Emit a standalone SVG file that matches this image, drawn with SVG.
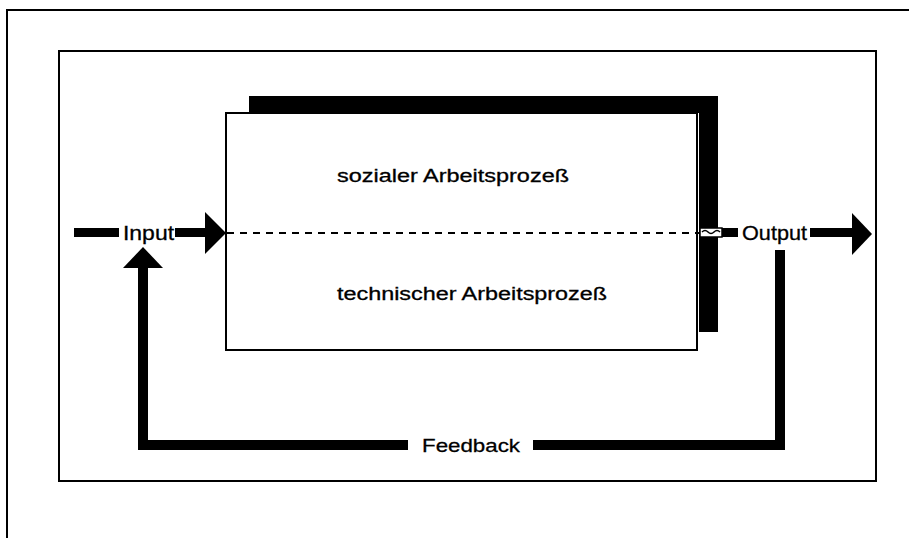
<svg xmlns="http://www.w3.org/2000/svg" width="909" height="538" viewBox="0 0 909 538">
<style>
.frame{fill:none;stroke:#000;stroke-width:2}
.bar{fill:#000}
.lbl{font-family:"Liberation Sans",Arial,sans-serif;fill:#000;stroke:#000;stroke-width:0.3}
</style>
<rect width="909" height="538" fill="#fff"/>
<g id="outer-frame">
<path class="frame" d="M7,538 V10 H909"/>
</g>
<g id="inner-frame">
<rect class="frame" x="59" y="51" width="817" height="430"/>
</g>
<g id="process">
<path class="bar" d="M249,96 H718 V332 H699 V113 H249 Z"/>
<rect x="226" y="113" width="471" height="237" fill="#fff" stroke="#000" stroke-width="2"/>
<line x1="227" y1="233" x2="699" y2="233" stroke="#000" stroke-width="2" stroke-dasharray="7 6"/>
<text class="lbl" x="337" y="182" font-size="18" textLength="232" lengthAdjust="spacingAndGlyphs">sozialer Arbeitsprozeß</text>
<text class="lbl" x="337" y="300" font-size="18" textLength="270" lengthAdjust="spacingAndGlyphs">technischer Arbeitsprozeß</text>
</g>
<g id="input">
<text class="lbl" x="123" y="240" font-size="20" textLength="51" lengthAdjust="spacingAndGlyphs">Input</text>
</g>
<g id="output">
<text class="lbl" x="742" y="240" font-size="20" textLength="65" lengthAdjust="spacingAndGlyphs">Output</text>
</g>
<g id="feedback">
<text class="lbl" x="422" y="452" font-size="19" textLength="98" lengthAdjust="spacingAndGlyphs">Feedback</text>
</g>
<g id="connectors">
<rect class="bar" x="74" y="228" width="45" height="9"/>
<rect class="bar" x="175" y="228" width="32" height="9"/>
<polygon class="bar" points="205,212 226,233 205,254"/>
<rect x="700" y="228" width="22" height="9" fill="#fff" stroke="#000" stroke-width="1.5"/>
<path d="M702,232 q3,-3 6,0 t6,0 t6,0" fill="none" stroke="#000" stroke-width="1.5"/>
<rect class="bar" x="722" y="228" width="16" height="9"/>
<rect class="bar" x="810" y="228" width="43" height="9"/>
<polygon class="bar" points="852,213 872,234 852,255"/>
<path class="bar" d="M775,250 H785 V450 H533 V440 H775 Z"/>
<path class="bar" d="M408,440 V450 H138 V268 H148 V440 Z"/>
<polygon class="bar" points="143,247 163,268 123,268"/>
</g>
</svg>
